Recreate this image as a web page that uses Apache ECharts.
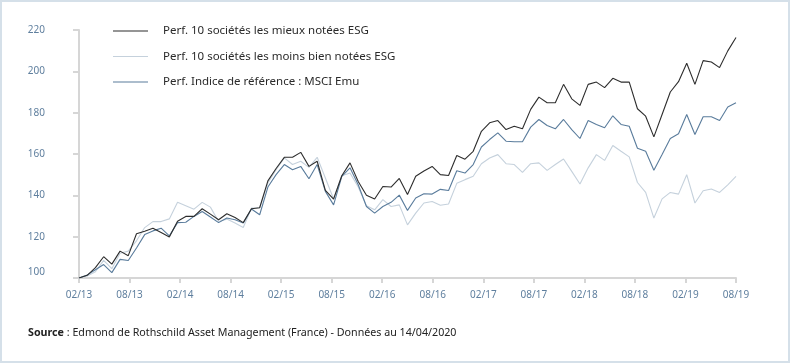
<!DOCTYPE html>
<html>
<head>
<meta charset="utf-8">
<script src="https://cdn.jsdelivr.net/npm/echarts@6/dist/echarts.min.js"></script>
<style>
html,body{margin:0;padding:0;background:#fff;}
#chart{width:800px;height:364px;}
</style>
</head>
<body>
<div id="chart"></div>
<script>
// Tick labels of the x axis (evenly spread under the plot)
var tickLabels = ['02/13','08/13','02/14','08/14','02/15','08/15','02/16','08/16','02/17','08/17','02/18','08/18','02/19','08/19'];

// Series names
var nameBest = 'Perf. 10 sociétés les mieux notées ESG';
var nameWorst = 'Perf. 10 sociétés les moins bien notées ESG';
var nameIndex = 'Perf. Indice de référence : MSCI Emu';

// Series values (one point per period)
var best = [100, 101.3, 105, 110.3, 106.7, 113, 110.8, 121.4, 122.6, 124.1, 122, 119.8, 127.5, 129.8, 129.8, 133.5, 130.9, 128.2, 131.1, 129.3, 126.8, 133.5, 134, 147, 153, 158.4, 158.4, 160.8, 154, 156.5, 142.4, 138.2, 149.5, 155.7, 146.7, 140, 138.2, 144.3, 144, 148.2, 140.4, 149.2, 151.8, 154, 150, 149.6, 159.3, 157.5, 161.3, 171, 175.1, 176.2, 171.8, 173.4, 172.2, 181.6, 187.5, 184.8, 184.8, 193.7, 186.7, 183.5, 193.7, 194.8, 192.1, 196.6, 194.8, 194.8, 181.9, 178.3, 168.3, 179.1, 190, 195, 203.9, 193.7, 205.2, 204.5, 201.8, 209.9, 216.4];
var worst = [100, 101, 103, 108.5, 104.5, 112, 113, 118, 124.4, 127.3, 127.3, 128.6, 136.6, 135, 133.3, 136.6, 134.3, 127.3, 128.5, 126.6, 124.4, 133.8, 134, 146, 152.4, 158.1, 154.9, 156.5, 153.5, 158.4, 148.4, 138.2, 149.5, 150.8, 144, 135, 133, 137.9, 134.6, 135.4, 125.7, 131.4, 136.3, 137, 135.2, 135.8, 145.8, 147.6, 149.2, 155.3, 158.1, 159.7, 155.3, 154.9, 151.1, 155.3, 155.7, 152.1, 154.9, 157.6, 151.6, 145.5, 153.3, 159.7, 156.9, 164.1, 161.3, 158.6, 146.2, 141.4, 129, 138.3, 141.4, 140.6, 150, 136.3, 142.2, 143.1, 141.4, 145.1, 149.2];
var msci = [100, 101.5, 104, 106.5, 102.6, 109, 108.5, 114.5, 121, 122.8, 124.1, 120.4, 126.8, 127, 129.8, 132.2, 129.5, 126.8, 129, 128.2, 126.6, 133.4, 130.6, 144, 150, 154.9, 152.4, 154, 148, 154.9, 141.9, 135.4, 149.2, 153.3, 145.1, 134.6, 131.4, 134.6, 136.6, 140.1, 132.7, 138.7, 140.8, 140.6, 142.9, 142.3, 151.9, 150.8, 154.9, 163.4, 167, 170.2, 166.2, 165.9, 165.9, 173, 176.7, 173.8, 172.2, 176.7, 171.8, 167.5, 176.2, 174.3, 172.7, 178.5, 174.3, 173.4, 162.8, 161.3, 152.1, 159.7, 167.5, 169.8, 179.1, 169.4, 178, 178, 176.2, 182.7, 184.8];

// Point categories (period index)
var categories = best.map(function (_, i) { return i; });

var axisGray = '#d6d6d6';
var labelBlue = '#5f7f9e';

var chart = echarts.init(document.getElementById('chart'), null, {renderer: 'canvas'});
chart.setOption({
  animation: false,
  backgroundColor: '#ffffff',
  textStyle: {fontFamily: 'Noto Sans'},
  title: {
    left: 28,
    top: 327,
    padding: 0,
    text: '{b|Source} : Edmond de Rothschild Asset Management (France) - Données au 14/04/2020',
    textStyle: {
      fontFamily: 'Noto Sans',
      fontSize: 10.7,
      fontWeight: 'normal',
      color: '#222',
      rich: {b: {fontFamily: 'Noto Sans', fontSize: 10.7, fontWeight: 'bold', color: '#222'}}
    }
  },
  legend: {
    orient: 'vertical',
    left: 113,
    top: 24,
    padding: 0,
    itemWidth: 35,
    itemHeight: 1,
    itemGap: 11.5,
    icon: 'rect',
    data: [nameBest, nameWorst, nameIndex],
    textStyle: {fontFamily: 'Noto Sans', fontSize: 11.5, color: '#2a2a2a', lineHeight: 14, padding: [0, 0, 0, 10]}
  },
  graphic: [{
    type: 'rect',
    shape: {x: 1, y: 1, width: 788, height: 361},
    style: {fill: 'none', stroke: '#d5e0e9', lineWidth: 2},
    silent: true
  }],
  grid: {left: 79, right: 64, top: 30, bottom: 86, containLabel: false},
  xAxis: [{
    type: 'category',
    data: categories,
    boundaryGap: false,
    show: false
  }, {
    type: 'value',
    position: 'bottom',
    min: 0,
    max: tickLabels.length - 1,
    interval: 1,
    axisLine: {show: true, lineStyle: {color: axisGray, width: 2}},
    axisTick: {show: true, length: 5, lineStyle: {color: axisGray, width: 2}},
    splitLine: {show: false},
    axisLabel: {
      margin: 12,
      fontFamily: 'Noto Sans',
      fontSize: 10,
      color: labelBlue,
      formatter: function (v) { return tickLabels[Math.round(v)] || ''; }
    }
  }],
  yAxis: {
    type: 'value',
    min: 100,
    max: 220,
    interval: 20,
    axisLine: {show: true, lineStyle: {color: axisGray, width: 2}},
    axisTick: {show: true, length: 6, lineStyle: {color: axisGray, width: 2}},
    splitLine: {show: false},
    axisLabel: {
      margin: 34,
      fontFamily: 'Noto Sans',
      fontSize: 10,
      color: labelBlue,
      formatter: function (v) { return v === 100 ? '{a|' + v + '}' : String(v); },
      rich: {a: {fontFamily: 'Noto Sans', fontSize: 10, color: labelBlue, padding: [0, 0, 12, 0]}}
    }
  },
  series: [{
    name: nameWorst,
    type: 'line',
    xAxisIndex: 0,
    data: worst,
    showSymbol: false,
    symbol: 'none',
    color: '#c5d1dc',
    lineStyle: {width: 1.1, color: '#c5d1dc'},
    z: 2
  }, {
    name: nameIndex,
    type: 'line',
    xAxisIndex: 0,
    data: msci,
    showSymbol: false,
    symbol: 'none',
    color: '#5a7c9c',
    lineStyle: {width: 1.1, color: '#5a7c9c'},
    z: 3
  }, {
    name: nameBest,
    type: 'line',
    xAxisIndex: 0,
    data: best,
    showSymbol: false,
    symbol: 'none',
    color: '#2d2d2d',
    lineStyle: {width: 1.1, color: '#2d2d2d'},
    z: 4
  }]
});
</script>
</body>
</html>
